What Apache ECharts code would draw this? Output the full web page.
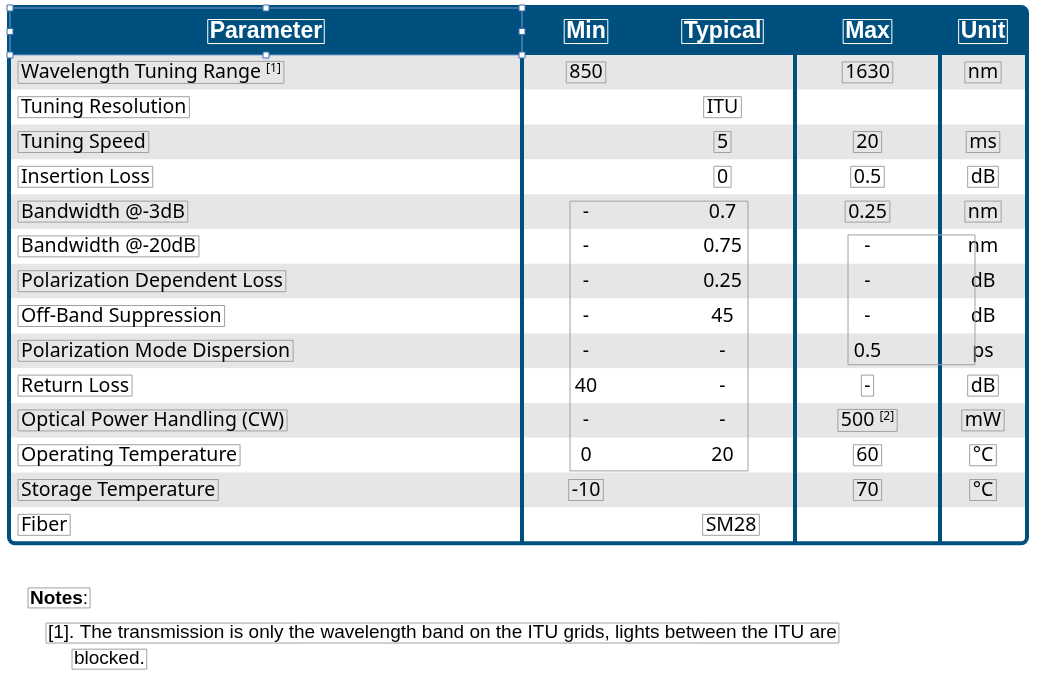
<!DOCTYPE html>
<html><head><meta charset="utf-8">
<script src="https://cdn.jsdelivr.net/npm/echarts@6/dist/echarts.min.js"></script>
<style>html,body{margin:0;padding:0;background:#fff}#c{width:1037px;height:679px}</style>
</head><body><div id="c"></div>
<script>
const headers = ['Parameter','Min','Typical','Max','Unit'];
const parameters = ['Wavelength Tuning Range','Tuning Resolution','Tuning Speed','Insertion Loss','Bandwidth @-3dB','Bandwidth @-20dB','Polarization Dependent Loss','Off-Band Suppression','Polarization Mode Dispersion','Return Loss','Optical Power Handling (CW)','Operating Temperature','Storage Temperature','Fiber'];
const minValues = ['850','','','','-','-','-','-','-','40','-','0','-10',''];
const typicalValues = ['','ITU','5','0','0.7','0.75','0.25','45','-','-','-','20','','SM28'];
const maxValues = ['1630','','20','0.5','0.25','-','-','-','0.5','-','500','60','70',''];
const unitValues = ['nm','','ms','dB','nm','nm','dB','dB','ps','dB','mW','°C','°C',''];
const paramNotes = ['[1]','','','','','','','','','','','','',''];
const maxNotes = ['','','','','','','','','','','[2]','','',''];
const colEdges = [10,522,650,795,940,1026];
const notesTitle = 'Notes';
const noteLines = ['[1]. The transmission is only the wavelength band on the ITU grids, lights between the ITU are','blocked.'];

const BLUE = '#00507f';
const nRows = parameters.length;
const rowData = parameters.map((p,i)=>[i]);

function cellText(x,y,text,sup,align,boxed){
  return {type:'text',x:x,y:y,style:{
    text: sup ? text+' {s|'+sup+'}' : text,
    rich:{s:{fontSize:12,verticalAlign:'top',padding:[0,0,9,0],fontFamily:'Noto Sans'}},
    fontFamily:'Noto Sans',fontSize:19.5,fill:'#000',align:align||'center',verticalAlign:'middle',
    borderColor:boxed===false?'transparent':'#a0a0a0',borderWidth:1,padding:[1,3,0,3]}};
}

function renderRow(params, api){
  const i = api.value(0);
  const top = api.coord([colEdges[0], i])[1];
  const bot = api.coord([colEdges[0], i+1])[1];
  const l = api.coord([colEdges[0],0])[0], r = api.coord([colEdges[5],0])[0];
  const cy = (top+bot)/2;
  const cx = k => (api.coord([colEdges[k],0])[0]+api.coord([colEdges[k+1],0])[0])/2;
  const inA = i>=4 && i<=11, inB = i>=5 && i<=8;
  const ch = [{type:'rect',shape:{x:l,y:top,width:r-l,height:bot-top},style:{fill: i%2===0?'#e6e6e6':'#fff'}}];
  if (parameters[i]) ch.push(cellText(l+8,cy,parameters[i],paramNotes[i],'left'));
  if (parameters[i]==='Fiber'){
    ch.push(cellText((api.coord([colEdges[1],0])[0]+api.coord([colEdges[4],0])[0])/2,cy,typicalValues[i]));
  } else {
    if (minValues[i]) ch.push(cellText(cx(1),cy,minValues[i],'', 'center', !inA));
    if (typicalValues[i]) ch.push(cellText(cx(2),cy,typicalValues[i],'', 'center', !inA));
    if (maxValues[i]) ch.push(cellText(cx(3),cy,maxValues[i],maxNotes[i],'center',!inB));
    if (unitValues[i]) ch.push(cellText(cx(4),cy,unitValues[i],'','center',!inB));
  }
  return {type:'group',children:ch};
}

function renderFrame(params, api){
  const p = (x,y)=>api.coord([x,y]);
  const tl = p(colEdges[0],-1.35), br = p(colEdges[5],nRows);
  const h0 = p(colEdges[0],0)[1];
  const ch = [];
  ch.push({type:'rect',shape:{x:tl[0],y:tl[1],width:br[0]-tl[0],height:h0-tl[1]},style:{fill:BLUE}});
  headers.forEach((h,k)=>{
    const x = (p(colEdges[k],0)[0]+p(colEdges[k+1],0)[0])/2;
    ch.push({type:'text',x:x,y:(tl[1]+h0)/2,style:{text:h,fontFamily:'Liberation Sans',fontWeight:'bold',fontSize:23,fill:'#fff',align:'center',verticalAlign:'middle',borderColor:'#fff',borderWidth:1,padding:[1,2,0,2]}});
  });
  [1,3,4].forEach(k=>{
    const x = p(colEdges[k],0)[0];
    ch.push({type:'line',shape:{x1:x,y1:h0,x2:x,y2:br[1]},style:{stroke:BLUE,lineWidth:4}});
  });
  ch.push({type:'rect',shape:{x:tl[0]-1,y:tl[1]-1,width:br[0]-tl[0]+2,height:br[1]-tl[1]+2,r:6},style:{fill:'none',stroke:BLUE,lineWidth:4}});
  const a = p(colEdges[0],-1.35), b = p(colEdges[1],0);
  ch.push({type:'rect',shape:{x:a[0],y:a[1],width:b[0]-a[0],height:b[1]-a[1]},style:{fill:'none',stroke:'#7a9cc8',lineWidth:1}});
  [[a[0],a[1]],[(a[0]+b[0])/2,a[1]],[b[0],a[1]],[a[0],(a[1]+b[1])/2],[b[0],(a[1]+b[1])/2],[a[0],b[1]],[(a[0]+b[0])/2,b[1]],[b[0],b[1]]].forEach(q=>{
    ch.push({type:'rect',shape:{x:q[0]-3,y:q[1]-3,width:6,height:6},style:{fill:'#fff',stroke:'#3b6fb6',lineWidth:1}});
  });
  const g1a = p(570,4.2), g1b = p(748,11.95);
  ch.push({type:'rect',shape:{x:g1a[0],y:g1a[1],width:g1b[0]-g1a[0],height:g1b[1]-g1a[1]},style:{fill:'none',stroke:'#a0a0a0',lineWidth:1}});
  const g2a = p(848,5.17), g2b = p(975,8.9);
  ch.push({type:'rect',shape:{x:g2a[0],y:g2a[1],width:g2b[0]-g2a[0],height:g2b[1]-g2a[1]},style:{fill:'none',stroke:'#a0a0a0',lineWidth:1}});
  const n0 = p(28,15.6);
  ch.push({type:'text',x:n0[0],y:n0[1],style:{text:'{b|'+notesTitle+'}:',rich:{b:{fontWeight:'bold',fontFamily:'Liberation Sans',fontSize:19}},fontFamily:'Liberation Sans',fontSize:19,fill:'#000',verticalAlign:'middle',borderColor:'#a0a0a0',borderWidth:1,padding:[1,2,0,2]}});
  const n1 = p(46,16.61), n2 = p(72,17.36);
  ch.push({type:'text',x:n1[0],y:n1[1],style:{text:noteLines[0],fontFamily:'Liberation Sans',fontSize:19,fill:'#000',verticalAlign:'middle',borderColor:'#a0a0a0',borderWidth:1,padding:[1,2,0,2]}});
  ch.push({type:'text',x:n2[0],y:n2[1],style:{text:noteLines[1],fontFamily:'Liberation Sans',fontSize:19,fill:'#000',verticalAlign:'middle',borderColor:'#a0a0a0',borderWidth:1,padding:[1,2,0,2]}});
  return {type:'group',children:ch};
}

const chart = echarts.init(document.getElementById('c'));
chart.setOption({
  animation:false,
  grid:{left:0,right:0,top:0,bottom:0},
  xAxis:{type:'value',min:0,max:1037,show:false},
  yAxis:{type:'value',min:-1.58,max:17.93,inverse:true,show:false},
  series:[
    {type:'custom',renderItem:renderRow,data:rowData,encode:{x:[],y:0},clip:false,z:1},
    {type:'custom',renderItem:renderFrame,data:[[0]],clip:false,z:2}
  ]
});
</script></body></html>
